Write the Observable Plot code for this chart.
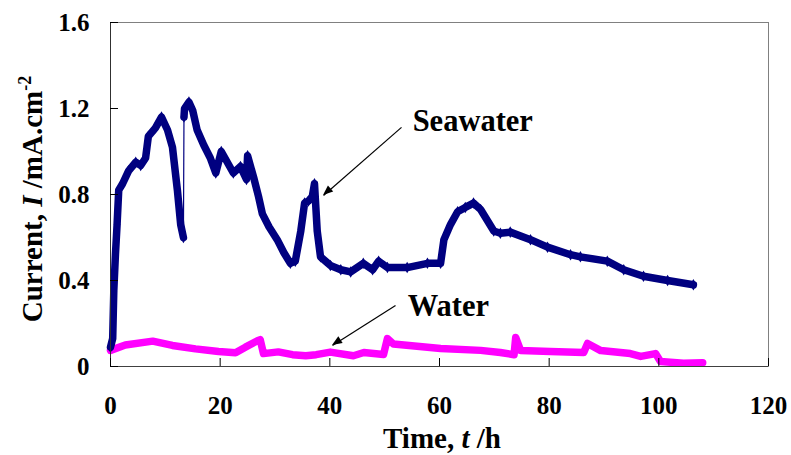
<!DOCTYPE html>
<html><head><meta charset="utf-8">
<script src="https://cdn.jsdelivr.net/npm/d3@7"></script>
<script src="https://cdn.jsdelivr.net/npm/@observablehq/plot@0.6"></script>
<style>body{margin:0;background:#fff} svg{display:block}</style>
</head><body><div id="chart"></div>
<script>
const xTicks = [0, 20, 40, 60, 80, 100, 120];
const yTicks = [0, 0.4, 0.8, 1.2, 1.6];

const seawaterTime = [0, 0.4, 0.6, 0.9, 1.2, 1.5, 2.2, 3.3, 4.6, 5.5, 6.4, 6.9, 8.2, 9.3, 10.4, 11.3, 12.2, 12.8, 13.3,
  13.4, 13.5, 14.3, 15.0, 15.8, 17.0, 18.2, 19.2, 20.2, 21.3, 22.4, 23.7, 24.8,
  25.0, 26.1, 27.0, 27.7, 28.9, 30.4, 31.6, 32.8, 33.7, 34.7, 35.4, 36.1, 36.8, 37.2, 37.7, 38.3, 40.1,
  42.0, 43.8, 46.1, 47.8, 48.9, 50.5, 54.1, 57.8, 60.2, 60.8, 62.0, 63.3, 64.7, 66.2, 67.5, 68.7,
  69.9, 71.1, 72.9, 76.6, 79.7, 83.9, 85.7, 90.6, 93.6, 97.2, 101.6, 106.3];
const seawaterCurrent = [0.09, 0.13, 0.35, 0.52, 0.66, 0.82, 0.85, 0.91, 0.95, 0.935, 0.97, 1.07, 1.11, 1.16, 1.10, 1.02, 0.82, 0.66, 0.60,
  1.16, 1.20, 1.23, 1.19, 1.10, 1.03, 0.97, 0.90, 1.00, 0.95, 0.90, 0.93, 0.87,
  0.98, 0.88, 0.79, 0.71, 0.65, 0.59, 0.53, 0.48, 0.49, 0.63, 0.76, 0.77, 0.79, 0.85, 0.63, 0.51, 0.47,
  0.45, 0.44, 0.48, 0.45, 0.49, 0.46, 0.46, 0.48, 0.48, 0.59, 0.66, 0.72, 0.74, 0.76, 0.73, 0.68,
  0.63, 0.62, 0.625, 0.59, 0.555, 0.52, 0.51, 0.49, 0.45, 0.42, 0.40, 0.38];

const waterTime = [0, 2.7, 7.7, 11.3, 15.5, 19.7, 22.8, 24.6, 26.8, 27.3, 27.9, 30.6, 33.2, 35.6, 37.5,
  40.1, 44.3, 46.2, 49.8, 50.5, 51.6, 60.2, 67.5, 71.1, 73.6, 73.9, 74.8, 80.2, 86.3, 87.0,
  89.4, 94.8, 96.7, 99.4, 100.3, 104.5, 108.0];
const waterCurrent = [0.075, 0.10, 0.118, 0.098, 0.082, 0.07, 0.064, 0.09, 0.12, 0.125, 0.06, 0.068, 0.055, 0.05, 0.055,
  0.067, 0.05, 0.065, 0.056, 0.13, 0.105, 0.084, 0.075, 0.065, 0.055, 0.135, 0.074, 0.07, 0.065, 0.107,
  0.074, 0.06, 0.047, 0.06, 0.023, 0.015, 0.018];

const seriesNames = ["Seawater", "Water"];
const seriesColors = ["#000080", "#FF00FF"];
const labelTime = [55.1, 54.2];
const labelCurrent = [1.141, 0.280];
const arrowFromTime = [53.07, 51.98];
const arrowFromCurrent = [1.112, 0.284];
const arrowToTime = [38.85, 40.49];
const arrowToCurrent = [0.795, 0.098];

const seawater = seawaterTime.map((t, i) => ({t, I: seawaterCurrent[i]}));
let seg = 0;
seawater.forEach((d, i) => { if (i > 0 && Math.abs(d.I - seawater[i - 1].I) > 0.3) seg++; d.seg = seg; });
const water = waterTime.map((t, i) => ({t, I: waterCurrent[i]}));
const labels = seriesNames.map((name, i) => ({name, t: labelTime[i], I: labelCurrent[i],
  t1: arrowFromTime[i], I1: arrowFromCurrent[i], t2: arrowToTime[i], I2: arrowToCurrent[i]}));

const chart = Plot.plot({
  width: 791, height: 455,
  marginLeft: 110, marginRight: 23, marginTop: 22, marginBottom: 89,
  style: {fontFamily: "'Liberation Serif','Times New Roman',serif", fontSize: "25px", fontWeight: "bold", background: "#fff"},
  x: {domain: [0, 120]},
  y: {domain: [0, 1.6]},
  marks: [
    Plot.frame({stroke: "#808080"}),
    Plot.line(water, {x: "t", y: "I", stroke: seriesColors[1], strokeWidth: 7.5, strokeLinejoin: "round", strokeLinecap: "round"}),
    Plot.line(seawater, {x: "t", y: "I", stroke: seriesColors[0], strokeWidth: 1.2}),
    Plot.line(seawater, {x: "t", y: "I", z: "seg", stroke: seriesColors[0], strokeWidth: 7.5, strokeLinejoin: "round", strokeLinecap: "round"}),
    Plot.dot(seawater, {x: "t", y: "I", symbol: "diamond", r: 3.5, fill: seriesColors[0]}),
    Plot.ruleX([0], {stroke: "#303030"}),
    Plot.ruleY([0], {stroke: "#404040"}),
    Plot.axisX(xTicks, {tickSize: 8, dy: -8, tickPadding: 30, label: null, tickFormat: d => String(d), fontSize: 25}),
    Plot.axisY(yTicks, {tickSize: 8, dx: 8, tickPadding: 21, label: null, tickFormat: d => String(d), fontSize: 25}),
    Plot.link(labels, {x1: "t1", y1: "I1", x2: "t2", y2: "I2", stroke: "black", strokeWidth: 1.2}),
    Plot.text(labels, {x: "t", y: "I", text: "name", textAnchor: "start", fontSize: 30.5, fontWeight: "bold", fill: "black"})
  ]
});
document.getElementById("chart").appendChild(chart);

const svg = d3.select(chart);
const sx = chart.scale("x"), sy = chart.scale("y");
// filled arrowheads at the end of each annotation line
svg.append("g").selectAll("path").data(labels).join("path")
  .attr("fill", "black")
  .attr("d", d => {
    const x1 = sx.apply(d.t1), y1 = sy.apply(d.I1), x2 = sx.apply(d.t2), y2 = sy.apply(d.I2);
    const L = Math.hypot(x2 - x1, y2 - y1), ux = (x2 - x1) / L, uy = (y2 - y1) / L;
    const len = 10, hw = 4;
    const bx = x2 - ux * len, by = y2 - uy * len;
    return `M${x2},${y2}L${bx - uy * hw},${by + ux * hw}L${bx + uy * hw},${by - ux * hw}Z`;
  });

const yl = svg.append("text")
  .attr("transform", "translate(42,199) rotate(-90)")
  .attr("text-anchor", "middle")
  .attr("font-size", 29).attr("font-weight", "bold").attr("fill", "black");
yl.append("tspan").text("Current, ");
yl.append("tspan").attr("font-style", "italic").text("I");
yl.append("tspan").text(" /mA.cm");
yl.append("tspan").attr("dy", "-0.6em").attr("font-size", 18).text("-2");

const xl = svg.append("text")
  .attr("x", 442).attr("y", 448)
  .attr("text-anchor", "middle")
  .attr("font-size", 29).attr("font-weight", "bold").attr("fill", "black");
xl.append("tspan").text("Time, ");
xl.append("tspan").attr("font-style", "italic").text("t");
xl.append("tspan").text(" /h");
</script>
</body></html>
